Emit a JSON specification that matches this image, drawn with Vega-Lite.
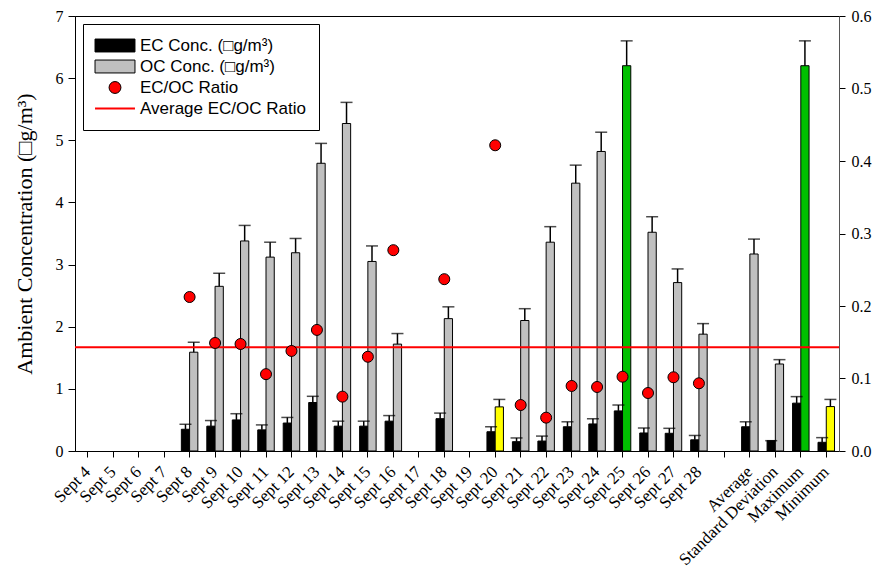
{
  "$schema": "https://vega.github.io/schema/vega-lite/v6.json",
  "width": 764,
  "height": 435,
  "autosize": {"type": "none"},
  "padding": {"left": 75, "top": 16, "right": 42, "bottom": 125},
  "background": "white",
  "config": {
    "view": {"stroke": "black", "strokeWidth": 1},
    "axis": {
      "labelFont": "Liberation Serif",
      "labelFontSize": 16,
      "labelColor": "black",
      "titleFont": "Liberation Serif",
      "titleFontSize": 22,
      "titleFontWeight": "normal",
      "titleColor": "black",
      "domainColor": "black",
      "tickColor": "black",
      "grid": false,
      "domainWidth": 1,
      "tickWidth": 1
    }
  },
  "datasets": {
    "conc": [
      {"day": "Sept 8", "series": "EC Conc. (□g/m³)", "value": 0.35, "upper": 0.43, "flag": ""},
      {"day": "Sept 8", "series": "OC Conc. (□g/m³)", "value": 1.59, "upper": 1.75, "flag": ""},
      {"day": "Sept 9", "series": "EC Conc. (□g/m³)", "value": 0.40, "upper": 0.49, "flag": ""},
      {"day": "Sept 9", "series": "OC Conc. (□g/m³)", "value": 2.65, "upper": 2.86, "flag": ""},
      {"day": "Sept 10", "series": "EC Conc. (□g/m³)", "value": 0.50, "upper": 0.60, "flag": ""},
      {"day": "Sept 10", "series": "OC Conc. (□g/m³)", "value": 3.38, "upper": 3.63, "flag": ""},
      {"day": "Sept 11", "series": "EC Conc. (□g/m³)", "value": 0.34, "upper": 0.42, "flag": ""},
      {"day": "Sept 11", "series": "OC Conc. (□g/m³)", "value": 3.12, "upper": 3.36, "flag": ""},
      {"day": "Sept 12", "series": "EC Conc. (□g/m³)", "value": 0.45, "upper": 0.54, "flag": ""},
      {"day": "Sept 12", "series": "OC Conc. (□g/m³)", "value": 3.19, "upper": 3.42, "flag": ""},
      {"day": "Sept 13", "series": "EC Conc. (□g/m³)", "value": 0.78, "upper": 0.88, "flag": ""},
      {"day": "Sept 13", "series": "OC Conc. (□g/m³)", "value": 4.63, "upper": 4.95, "flag": ""},
      {"day": "Sept 14", "series": "EC Conc. (□g/m³)", "value": 0.40, "upper": 0.48, "flag": ""},
      {"day": "Sept 14", "series": "OC Conc. (□g/m³)", "value": 5.27, "upper": 5.61, "flag": ""},
      {"day": "Sept 15", "series": "EC Conc. (□g/m³)", "value": 0.40, "upper": 0.48, "flag": ""},
      {"day": "Sept 15", "series": "OC Conc. (□g/m³)", "value": 3.05, "upper": 3.30, "flag": ""},
      {"day": "Sept 16", "series": "EC Conc. (□g/m³)", "value": 0.48, "upper": 0.57, "flag": ""},
      {"day": "Sept 16", "series": "OC Conc. (□g/m³)", "value": 1.72, "upper": 1.89, "flag": ""},
      {"day": "Sept 18", "series": "EC Conc. (□g/m³)", "value": 0.52, "upper": 0.61, "flag": ""},
      {"day": "Sept 18", "series": "OC Conc. (□g/m³)", "value": 2.13, "upper": 2.32, "flag": ""},
      {"day": "Sept 20", "series": "EC Conc. (□g/m³)", "value": 0.31, "upper": 0.39, "flag": ""},
      {"day": "Sept 20", "series": "OC Conc. (□g/m³)", "value": 0.71, "upper": 0.83, "flag": "min"},
      {"day": "Sept 21", "series": "EC Conc. (□g/m³)", "value": 0.15, "upper": 0.21, "flag": ""},
      {"day": "Sept 21", "series": "OC Conc. (□g/m³)", "value": 2.10, "upper": 2.29, "flag": ""},
      {"day": "Sept 22", "series": "EC Conc. (□g/m³)", "value": 0.16, "upper": 0.24, "flag": ""},
      {"day": "Sept 22", "series": "OC Conc. (□g/m³)", "value": 3.36, "upper": 3.61, "flag": ""},
      {"day": "Sept 23", "series": "EC Conc. (□g/m³)", "value": 0.39, "upper": 0.47, "flag": ""},
      {"day": "Sept 23", "series": "OC Conc. (□g/m³)", "value": 4.31, "upper": 4.60, "flag": ""},
      {"day": "Sept 24", "series": "EC Conc. (□g/m³)", "value": 0.435, "upper": 0.52, "flag": ""},
      {"day": "Sept 24", "series": "OC Conc. (□g/m³)", "value": 4.82, "upper": 5.13, "flag": ""},
      {"day": "Sept 25", "series": "EC Conc. (□g/m³)", "value": 0.645, "upper": 0.74, "flag": ""},
      {"day": "Sept 25", "series": "OC Conc. (□g/m³)", "value": 6.20, "upper": 6.60, "flag": "max"},
      {"day": "Sept 26", "series": "EC Conc. (□g/m³)", "value": 0.29, "upper": 0.37, "flag": ""},
      {"day": "Sept 26", "series": "OC Conc. (□g/m³)", "value": 3.52, "upper": 3.77, "flag": ""},
      {"day": "Sept 27", "series": "EC Conc. (□g/m³)", "value": 0.285, "upper": 0.365, "flag": ""},
      {"day": "Sept 27", "series": "OC Conc. (□g/m³)", "value": 2.71, "upper": 2.93, "flag": ""},
      {"day": "Sept 28", "series": "EC Conc. (□g/m³)", "value": 0.18, "upper": 0.25, "flag": ""},
      {"day": "Sept 28", "series": "OC Conc. (□g/m³)", "value": 1.88, "upper": 2.05, "flag": ""},
      {"day": "Average", "series": "EC Conc. (□g/m³)", "value": 0.39, "upper": 0.47, "flag": ""},
      {"day": "Average", "series": "OC Conc. (□g/m³)", "value": 3.17, "upper": 3.41, "flag": ""},
      {"day": "Standard Deviation", "series": "EC Conc. (□g/m³)", "value": 0.166, "upper": 0.166, "flag": ""},
      {"day": "Standard Deviation", "series": "OC Conc. (□g/m³)", "value": 1.40, "upper": 1.47, "flag": ""},
      {"day": "Maximum", "series": "EC Conc. (□g/m³)", "value": 0.77, "upper": 0.875, "flag": ""},
      {"day": "Maximum", "series": "OC Conc. (□g/m³)", "value": 6.20, "upper": 6.60, "flag": "max"},
      {"day": "Minimum", "series": "EC Conc. (□g/m³)", "value": 0.14, "upper": 0.215, "flag": ""},
      {"day": "Minimum", "series": "OC Conc. (□g/m³)", "value": 0.715, "upper": 0.83, "flag": "min"}
    ],
    "ratio": [
      {"day": "Sept 8", "series": "EC/OC Ratio", "ratio": 0.2124},
      {"day": "Sept 9", "series": "EC/OC Ratio", "ratio": 0.149},
      {"day": "Sept 10", "series": "EC/OC Ratio", "ratio": 0.1476},
      {"day": "Sept 11", "series": "EC/OC Ratio", "ratio": 0.106},
      {"day": "Sept 12", "series": "EC/OC Ratio", "ratio": 0.138},
      {"day": "Sept 13", "series": "EC/OC Ratio", "ratio": 0.167},
      {"day": "Sept 14", "series": "EC/OC Ratio", "ratio": 0.075},
      {"day": "Sept 15", "series": "EC/OC Ratio", "ratio": 0.130},
      {"day": "Sept 16", "series": "EC/OC Ratio", "ratio": 0.277},
      {"day": "Sept 18", "series": "EC/OC Ratio", "ratio": 0.237},
      {"day": "Sept 20", "series": "EC/OC Ratio", "ratio": 0.4217},
      {"day": "Sept 21", "series": "EC/OC Ratio", "ratio": 0.0634},
      {"day": "Sept 22", "series": "EC/OC Ratio", "ratio": 0.046},
      {"day": "Sept 23", "series": "EC/OC Ratio", "ratio": 0.0897},
      {"day": "Sept 24", "series": "EC/OC Ratio", "ratio": 0.0883},
      {"day": "Sept 25", "series": "EC/OC Ratio", "ratio": 0.1025},
      {"day": "Sept 26", "series": "EC/OC Ratio", "ratio": 0.080},
      {"day": "Sept 27", "series": "EC/OC Ratio", "ratio": 0.1017},
      {"day": "Sept 28", "series": "EC/OC Ratio", "ratio": 0.0934}
    ],
    "avg": [
      {"series": "Average EC/OC Ratio", "ratio": 0.143}
    ]
  },
  "layer": [
    {
      "data": {"name": "conc"},
      "encoding": {
        "x": {
          "field": "day",
          "type": "nominal",
          "sort": null,
          "scale": {
            "domain": ["Sept 4", "Sept 5", "Sept 6", "Sept 7", "Sept 8", "Sept 9", "Sept 10", "Sept 11", "Sept 12", "Sept 13", "Sept 14", "Sept 15", "Sept 16", "Sept 17", "Sept 18", "Sept 19", "Sept 20", "Sept 21", "Sept 22", "Sept 23", "Sept 24", "Sept 25", "Sept 26", "Sept 27", "Sept 28", "gap", "Average", "Standard Deviation", "Maximum", "Minimum"],
            "paddingInner": 0.352,
            "paddingOuter": 0.176
          },
          "axis": {
            "title": null,
            "labelAngle": -45,
            "labelAlign": "right",
            "labelBaseline": "middle",
            "labelFontSize": 17,
            "tickSize": 6,
            "labelPadding": 12,
            "labelExpr": "datum.label === 'gap' ? '' : datum.label"
          }
        },
        "xOffset": {
          "field": "series",
          "type": "nominal",
          "scale": {"domain": ["EC Conc. (□g/m³)", "OC Conc. (□g/m³)"], "paddingInner": 0, "paddingOuter": 0}
        }
      },
      "layer": [
        {
          "mark": {"type": "bar", "stroke": "black", "strokeWidth": 1},
          "encoding": {
            "y": {
              "field": "value",
              "type": "quantitative",
              "scale": {"domain": [0, 7], "nice": false},
              "axis": {
                "title": "Ambient Concentration (□g/m³)",
                "values": [0, 1, 2, 3, 4, 5, 6, 7],
                "format": "d",
                "tickSize": 7,
                "labelPadding": 5,
                "titlePadding": 19
              }
            },
            "color": {
              "condition": [
                {"test": "datum.flag === 'max'", "value": "#00c000"},
                {"test": "datum.flag === 'min'", "value": "#ffff00"}
              ],
              "field": "series",
              "type": "nominal",
              "scale": {
                "domain": ["EC Conc. (□g/m³)", "OC Conc. (□g/m³)", "EC/OC Ratio", "Average EC/OC Ratio"],
                "range": ["#000000", "#c0c0c0", "#ff0000", "#ff0000"]
              },
              "legend": {
                "title": null,
                "orient": "top-left",
                "offset": 8,
                "padding": 13,
                "strokeColor": "black",
                "fillColor": "white",
                "labelFont": "Liberation Sans",
                "labelFontSize": 17,
                "labelColor": "black",
                "labelLimit": 0,
                "labelOffset": 16.5,
                "symbolSize": 289,
                "symbolOffset": 10.5,
                "rowPadding": 3,
                "symbolOpacity": 1,
                "symbolType": {"expr": "datum.value === 'EC/OC Ratio' ? 'M0.7,0A0.7,0.7,0,1,1,-0.7,0A0.7,0.7,0,1,1,0.7,0Z' : datum.value === 'Average EC/OC Ratio' ? 'M-2.35,0H2.35' : 'M-2.35,-0.76H2.35V0.76H-2.35Z'"},
                "symbolStrokeColor": {"expr": "datum.value === 'Average EC/OC Ratio' ? '#ff0000' : '#000000'"},
                "symbolStrokeWidth": {"expr": "datum.value === 'Average EC/OC Ratio' ? 2 : 1"}
              }
            }
          }
        },
        {
          "mark": {"type": "rule", "color": "black", "strokeWidth": 1.5},
          "encoding": {
            "y": {"field": "upper", "type": "quantitative"},
            "y2": {"field": "value"}
          }
        },
        {
          "mark": {"type": "tick", "color": "black", "thickness": 1.5, "size": 12},
          "encoding": {
            "y": {"field": "upper", "type": "quantitative"}
          }
        }
      ]
    },
    {
      "layer": [
        {
          "data": {"name": "avg"},
          "mark": {"type": "rule", "strokeWidth": 2, "color": "#ff0000"},
          "encoding": {
            "y": {
              "field": "ratio",
              "type": "quantitative",
              "scale": {"domain": [0, 0.6], "nice": false},
              "axis": {
                "orient": "right",
                "title": null,
                "values": [0, 0.1, 0.2, 0.3, 0.4, 0.5, 0.6],
                "format": ".1f",
                "tickSize": 6,
                "labelPadding": 6,
                "domainColor": "#555555"
              }
            }
          }
        },
        {
          "data": {"name": "ratio"},
          "mark": {"type": "point", "filled": true, "shape": "circle", "size": 121, "color": "#ff0000", "stroke": "black", "strokeWidth": 1, "opacity": 1},
          "encoding": {
            "x": {
              "field": "day",
              "type": "nominal",
              "sort": null,
              "scale": {
                "domain": ["Sept 4", "Sept 5", "Sept 6", "Sept 7", "Sept 8", "Sept 9", "Sept 10", "Sept 11", "Sept 12", "Sept 13", "Sept 14", "Sept 15", "Sept 16", "Sept 17", "Sept 18", "Sept 19", "Sept 20", "Sept 21", "Sept 22", "Sept 23", "Sept 24", "Sept 25", "Sept 26", "Sept 27", "Sept 28", "gap", "Average", "Standard Deviation", "Maximum", "Minimum"],
                "paddingInner": 0.352,
                "paddingOuter": 0.176
              },
              "axis": {
                "title": null,
                "labelAngle": -45,
                "labelAlign": "right",
                "labelBaseline": "middle",
                "labelFontSize": 17,
                "tickSize": 6,
                "labelPadding": 12,
                "labelExpr": "datum.label === 'gap' ? '' : datum.label"
              }
            },
            "y": {"field": "ratio", "type": "quantitative"}
          }
        }
      ]
    }
  ],
  "resolve": {"scale": {"y": "independent"}}
}
